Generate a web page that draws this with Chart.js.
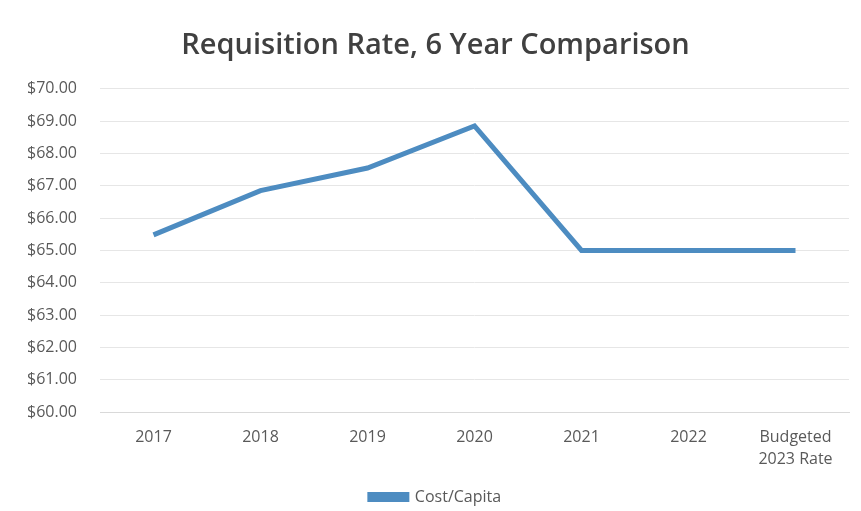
<!DOCTYPE html>
<html>
<head>
<meta charset="utf-8">
<script src="https://cdn.jsdelivr.net/npm/chart.js@4"></script>
<style>
  html, body { margin: 0; padding: 0; background: #fff; }
  #wrap { width: 861px; height: 511px; }
</style>
</head>
<body>
<div id="wrap"><canvas id="rateChart" width="861" height="511"></canvas></div>
<script>
const categories = ["2017", "2018", "2019", "2020", "2021", "2022", ["Budgeted", "2023 Rate"]];
const costPerCapita = [65.48, 66.85, 67.55, 68.85, 65.0, 65.0, 65.0];
const yMin = 60;
const yMax = 70;

const lineColor = "#4d8cc1";
const textColor = "#595959";

const ctx = document.getElementById("rateChart").getContext("2d");

new Chart(ctx, {
  type: "line",
  data: {
    labels: categories,
    datasets: [
      {
        label: "Cost/Capita",
        data: costPerCapita,
        borderColor: lineColor,
        backgroundColor: lineColor,
        borderWidth: 5,
        pointRadius: 0,
        tension: 0,
      },
    ],
  },
  options: {
    responsive: false,
    animation: false,
    layout: {
      // legend keeps 10px under itself, so pull the bottom edge down a bit
      padding: { left: 22, right: 12, top: 6, bottom: -4 },
    },
    scales: {
      x: {
        offset: true,
        grid: { display: false },
        border: { color: "#d9d9d9" },
        ticks: {
          color: textColor,
          font: { family: "Open Sans", size: 16, lineHeight: 1.375 },
          maxRotation: 0,
          padding: 6,
        },
      },
      y: {
        min: yMin,
        max: yMax,
        grid: { color: "#e6e6e6", drawTicks: false },
        border: { display: false },
        ticks: {
          stepSize: 1,
          color: textColor,
          padding: 23,
          font: { family: "Open Sans", size: 16 },
          callback: (v) => "$" + Number(v).toFixed(2),
        },
        afterFit: (scale) => {
          scale.width = 78;
        },
      },
    },
    plugins: {
      title: {
        display: true,
        text: "Requisition Rate, 6 Year Comparison",
        color: "#404040",
        font: { family: "Open Sans", size: 29, weight: "600" },
        padding: { top: 22, bottom: 26 },
      },
      legend: {
        display: true,
        position: "bottom",
        labels: {
          color: textColor,
          font: { family: "Open Sans", size: 16 },
          boxWidth: 37,
          boxHeight: 5,
          padding: 13,
        },
      },
      tooltip: { enabled: false },
    },
  },
});
</script>
</body>
</html>
